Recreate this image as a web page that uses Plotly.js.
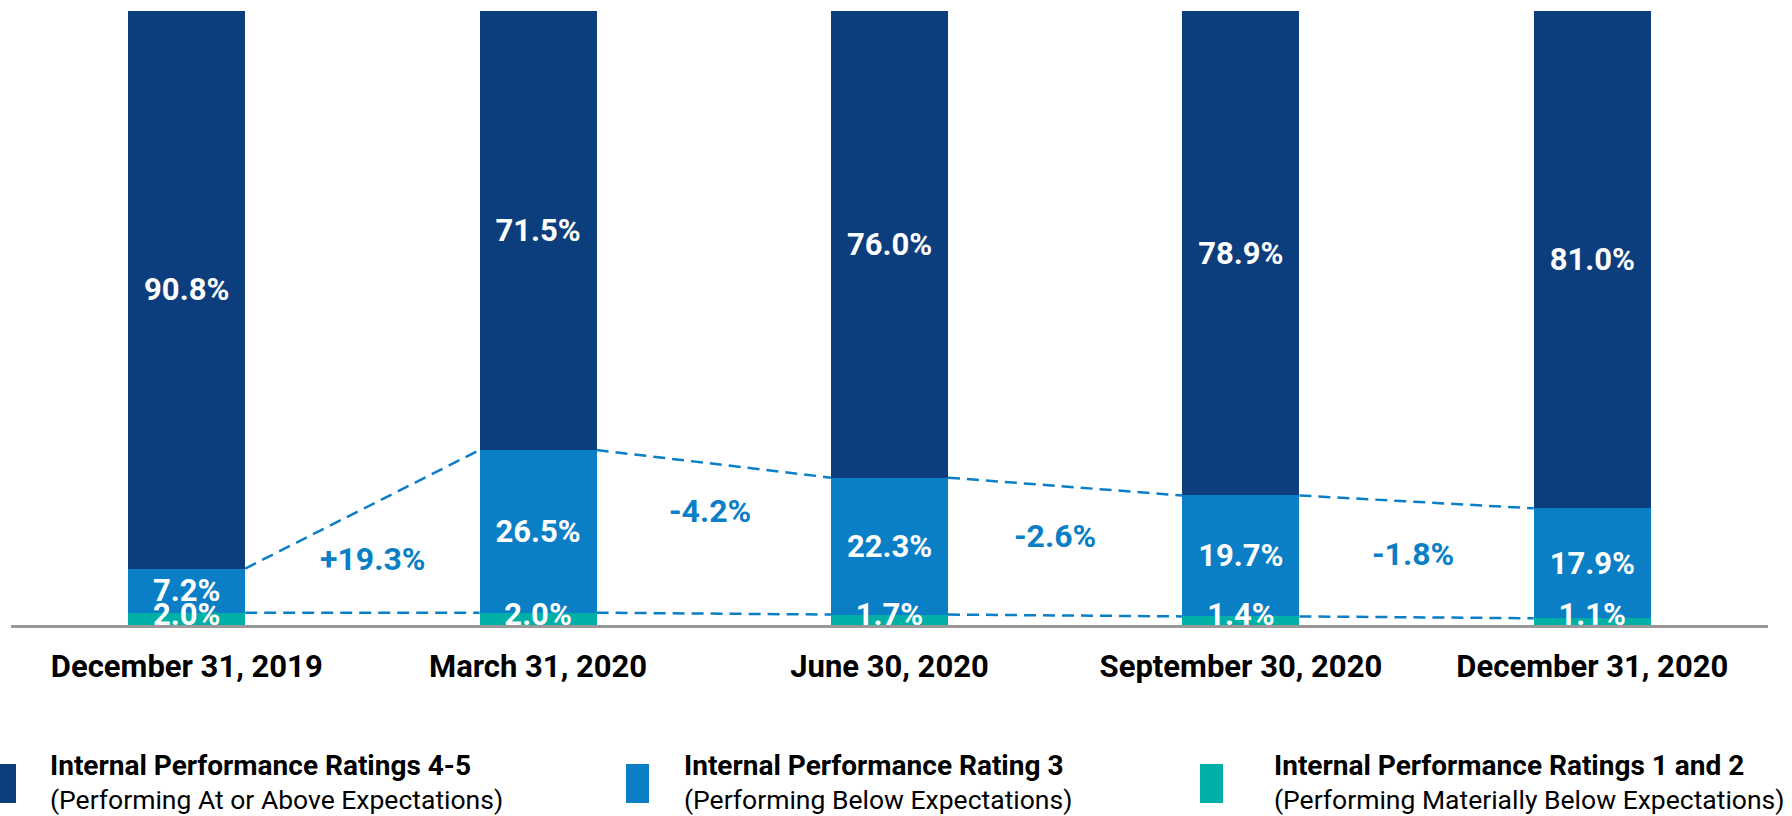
<!DOCTYPE html>
<html>
<head>
<meta charset="utf-8">
<script src="https://cdn.plot.ly/plotly-3.0.1.min.js"></script>
<style>html,body{margin:0;padding:0;background:#fff;}#chart{width:1792px;height:816px;}</style>
</head>
<body>
<div id="chart"></div>
<script>
const categories = ['December 31, 2019', 'March 31, 2020', 'June 30, 2020', 'September 30, 2020', 'December 31, 2020'];
const rating45 = [90.8, 71.5, 76.0, 78.9, 81.0];
const rating3 = [7.2, 26.5, 22.3, 19.7, 17.9];
const rating12 = [2.0, 2.0, 1.7, 1.4, 1.1];
const changeLabels = ['+19.3%', '-4.2%', '-2.6%', '-1.8%'];
const changeLabelY = [10.8, 18.6, 14.5, 11.6];
const changeLabelDx = [0.03, -0.01, -0.03, -0.01];
const legendTitles = ['Internal Performance Ratings 4-5', 'Internal Performance Rating 3', 'Internal Performance Ratings 1 and 2'];
const legendSubs = ['(Performing At or Above Expectations)', '(Performing Below Expectations)', '(Performing Materially Below Expectations)'];

const NAVY = '#0c3d7d', BLUE = '#0a7fc6', TEAL = '#00afa5';
const W = 1792, H = 816, L = 11, R = 24, T = 11, B = 191;
const PW = W - L - R, PH = H - T - B;
const px2x = p => (p - L) / PW;
const py2y = p => (H - B - p) / PH;

const idx = categories.map((c, i) => i);
const barW = 0.333, half = barW / 2;

const labelFont = {family: 'Roboto', size: 31, color: '#ffffff', weight: 700};
function barTrace(vals, color, withText) {
  const t = {
    type: 'bar', x: idx, y: vals, width: barW,
    marker: {color: color, line: {width: 0}},
    hoverinfo: 'skip', showlegend: false, cliponaxis: false
  };
  if (withText) {
    Object.assign(t, {texttemplate: '%{y:.1f}%', textposition: 'inside', insidetextanchor: 'middle',
      textangle: 0, constraintext: 'none', textfont: labelFont});
  } else {
    t.textposition = 'none';
  }
  return t;
}

// labels for the thin bottom segment, drawn above the stacked bars
const tealLabelTrace = {
  type: 'scatter', mode: 'text', x: idx, y: idx.map(() => 1.25),
  text: rating12.map(v => v.toFixed(1) + '%'), textposition: 'middle center',
  textfont: labelFont, hoverinfo: 'skip', showlegend: false, cliponaxis: true
};

// dashed connectors between segment tops
const top3 = idx.map(i => rating12[i] + rating3[i]);
const top12 = idx.map(i => rating12[i]);
const lx = [], ly = [];
[top3, top12].forEach(tops => {
  for (let i = 0; i < idx.length - 1; i++) {
    lx.push(i + half, i + 1 - half, null);
    ly.push(tops[i], tops[i + 1], null);
  }
});
const dashTrace = {
  type: 'scatter', mode: 'lines', x: lx, y: ly, connectgaps: false,
  line: {color: BLUE, width: 2.5, dash: '12px,7px'},
  hoverinfo: 'skip', showlegend: false, cliponaxis: false
};

const annotations = changeLabels.map((t, i) => ({
  x: i + 0.5 + changeLabelDx[i], y: changeLabelY[i], xref: 'x', yref: 'y',
  text: t, showarrow: false,
  font: {family: 'Roboto', size: 32, color: BLUE, weight: 700}
}));

const shapes = [];
const legendColors = [NAVY, BLUE, TEAL];
const sqX = [-7, 626, 1200];
const txX = [48, 682, 1272];
legendColors.forEach((c, k) => {
  shapes.push({type: 'rect', xref: 'paper', yref: 'paper',
    x0: px2x(sqX[k]), x1: px2x(sqX[k] + 23), y0: py2y(803), y1: py2y(764),
    fillcolor: c, line: {width: 0}});
  annotations.push({xref: 'paper', yref: 'paper', x: px2x(txX[k]), y: py2y(766),
    xanchor: 'left', yanchor: 'middle', showarrow: false, text: legendTitles[k],
    font: {family: 'Roboto', size: 28, color: '#000', weight: 700}});
  annotations.push({xref: 'paper', yref: 'paper', x: px2x(txX[k]), y: py2y(800),
    xanchor: 'left', yanchor: 'middle', showarrow: false, text: legendSubs[k],
    font: {family: 'Roboto', size: 26.5, color: '#000', weight: 400}});
});

const data = [barTrace(rating12, TEAL, false), barTrace(rating3, BLUE, true), barTrace(rating45, NAVY, true), dashTrace, tealLabelTrace];

const layout = {
  width: W, height: H, margin: {l: L, r: R, t: T, b: B},
  paper_bgcolor: '#ffffff', plot_bgcolor: '#ffffff',
  barmode: 'stack', showlegend: false,
  xaxis: {
    range: [-0.5, 4.5], tickvals: idx, ticktext: categories,
    showgrid: false, zeroline: false, showline: true, linecolor: '#999999', linewidth: 2.5,
    ticks: 'outside', ticklen: 12, tickcolor: 'rgba(0,0,0,0)',
    tickfont: {family: 'Roboto', size: 31, color: '#000000', weight: 700},
    fixedrange: true
  },
  yaxis: {range: [0, 100], visible: false, showgrid: false, zeroline: false, fixedrange: true},
  annotations: annotations, shapes: shapes
};

Plotly.newPlot('chart', data, layout, {displayModeBar: false, staticPlot: true});
</script>
</body>
</html>
